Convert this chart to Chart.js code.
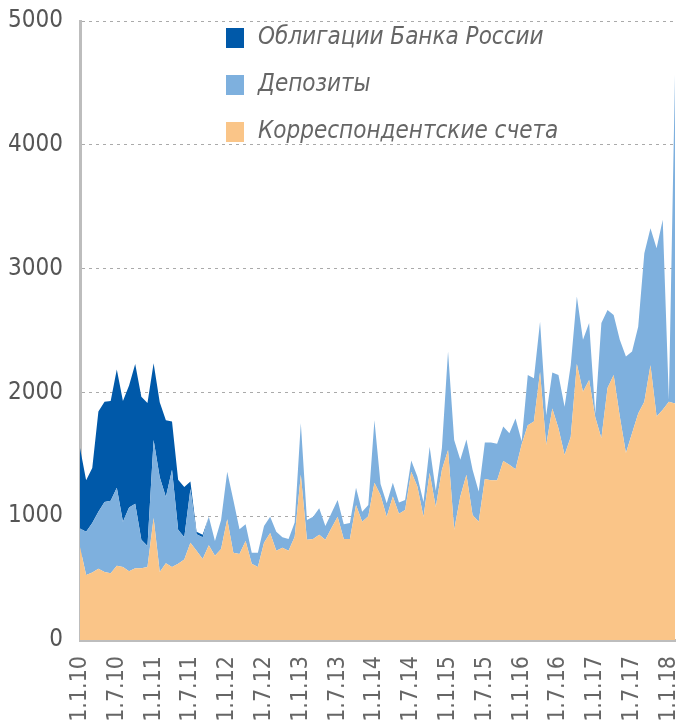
<!DOCTYPE html>
<html>
<head>
<meta charset="utf-8">
<script src="https://cdn.jsdelivr.net/npm/chart.js@4.4.0/dist/chart.umd.min.js"></script>
<style>
html, body { margin: 0; padding: 0; background: #fff; }
#wrap { position: relative; width: 678px; height: 720px; }
</style>
</head>
<body>
<div id="wrap"><canvas id="mycanvas" width="678" height="720"></canvas></div>
<script>
// monthly points, 1.1.10 .. 1.2.18
var tickLabels = ['1.1.10', '1.7.10', '1.1.11', '1.7.11', '1.1.12', '1.7.12', '1.1.13', '1.7.13', '1.1.14',
	'1.7.14', '1.1.15', '1.7.15', '1.1.16', '1.7.16', '1.1.17', '1.7.17', '1.1.18'];

var seriesNames = ['Корреспондентские счета', 'Депозиты', 'Облигации Банка России'];
var seriesColors = ['#fac588', '#7eb0de', '#0059a9'];

var corr = [750, 525, 545, 575, 550, 540, 600, 590, 555, 580,
	580, 590, 985, 550, 620, 590, 615, 650, 785, 720,
	655, 765, 680, 735, 975, 705, 695, 800, 615, 590,
	785, 865, 720, 745, 720, 835, 1335, 810, 815, 850,
	810, 905, 995, 815, 815, 1090, 955, 1000, 1270, 1170,
	995, 1160, 1020, 1050, 1360, 1240, 995, 1350, 1075, 1375,
	1535, 890, 1160, 1335, 1010, 955, 1300, 1290, 1290, 1445,
	1415, 1380, 1580, 1735, 1765, 2165, 1575, 1870, 1710, 1495,
	1640, 2230, 2005, 2100, 1800, 1630, 2035, 2140, 1805, 1510,
	1670, 1830, 1925, 2220, 1805, 1860, 1925, 1910];

var deposits = [150, 350, 400, 460, 565, 585, 630, 365, 515, 520,
	230, 170, 630, 765, 535, 785, 275, 180, 435, 135,
	175, 230, 120, 235, 385, 425, 200, 135, 90, 115,
	135, 130, 155, 85, 95, 115, 415, 160, 180, 215,
	110, 120, 135, 120, 130, 140, 80, 90, 505, 90,
	110, 110, 90, 80, 90, 80, 120, 210, 130, 175,
	795, 725, 295, 285, 365, 245, 295, 305, 295, 280,
	255, 410, 25, 405, 350, 405, 240, 290, 430, 390,
	580, 545, 420, 460, 30, 930, 630, 485, 620, 780,
	660, 700, 1200, 1105, 1360, 1535, 15, 2655];

var bonds = [650, 415, 445, 810, 810, 805, 955, 975, 985, 1130,
	1155, 1155, 620, 605, 620, 390, 405, 405, 60, 20,
	20, 0, 0, 0, 0, 0, 0, 0, 0, 0,
	0, 0, 0, 0, 0, 0, 0, 0, 0, 0,
	0, 0, 0, 0, 0, 0, 0, 0, 0, 0,
	0, 0, 0, 0, 0, 0, 0, 0, 0, 0,
	0, 0, 0, 0, 0, 0, 0, 0, 0, 0,
	0, 0, 0, 0, 0, 0, 0, 0, 0, 0,
	0, 0, 0, 0, 0, 0, 0, 0, 0, 0,
	0, 0, 0, 0, 0, 0, 0, 0];

var labels = [];
for (var i = 0; i < corr.length; i++) {
	labels.push(i % 6 === 0 ? (tickLabels[i / 6] || '') : '');
}

var narrow = '"Liberation Sans Narrow", "DejaVu Sans Condensed", "Open Sans", sans-serif';

// legend drawn inside the plot, top series first
var legendPlugin = {
	id: 'insideLegend',
	afterDatasetsDraw: function(chart) {
		var c = chart.ctx;
		var sets = chart.data.datasets;
		c.save();
		c.font = 'italic 24px ' + narrow;
		c.textBaseline = 'middle';
		for (var k = 0; k < sets.length; k++) {
			var ds = sets[sets.length - 1 - k];
			var y = 38 + k * 47;
			c.fillStyle = ds.backgroundColor;
			c.fillRect(226, y - 10, 18, 20);
			c.fillStyle = '#666';
			c.fillText(ds.label, 258, y);
		}
		c.restore();
	}
};

var values = [corr, deposits, bonds];
var datasets = [];
for (var s = 0; s < values.length; s++) {
	datasets.push({
		label: seriesNames[s],
		data: values[s],
		backgroundColor: seriesColors[s],
		borderColor: seriesColors[s],
		borderWidth: 0,
		pointRadius: 0,
		tension: 0,
		fill: s === 0 ? 'origin' : '-1'
	});
}

var ctx = document.getElementById('mycanvas');
var chart = new Chart(ctx, {
	type: 'line',
	data: { labels: labels, datasets: datasets },
	options: {
		responsive: false,
		animation: false,
		layout: { padding: { top: 21, right: 3, left: 0, bottom: 0 } },
		plugins: { legend: { display: false }, tooltip: { enabled: false } },
		scales: {
			x: {
				grid: { display: false },
				border: { color: '#bdbdbd', width: 3 },
				ticks: {
					autoSkip: false, maxRotation: 90, minRotation: 90,
					color: '#666', padding: 8,
					font: { family: narrow, size: 23 }
				},
				afterFit: function(scale) {
					scale.height = 80;
					scale.paddingLeft = 0;
					scale.paddingRight = 0;
				}
			},
			y: {
				stacked: true,
				min: 0, max: 5000,
				ticks: {
					stepSize: 1000, color: '#555', padding: 17,
					font: { family: narrow, size: 24 },
					callback: function(v) { return String(v); }
				},
				grid: { color: '#aaa', drawTicks: false, lineWidth: 1 },
				border: { color: '#bdbdbd', width: 3, dash: [3, 4] },
				afterFit: function(scale) {
					scale.width = 80;
					scale.paddingTop = 0;
					scale.paddingBottom = 0;
				}
			}
		}
	},
	plugins: [legendPlugin]
});
</script>
</body>
</html>
